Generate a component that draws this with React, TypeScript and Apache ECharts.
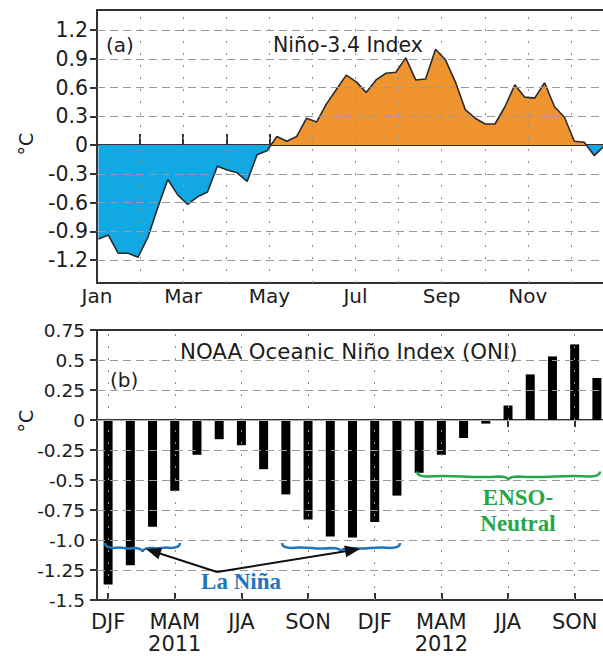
import React, { useEffect, useRef } from "react";
import * as echarts from "echarts";

// ---------- Panel (a): weekly Niño-3.4 index, 2011 ----------
const monthLabels = ["Jan", "", "Mar", "", "May", "", "Jul", "", "Sep", "", "Nov", "", ""];
const firstWeekDay = 1; // day-of-year of the first weekly value
const weekStepDays = 7;
const nino34Weekly = [
  -0.98, -0.94, -1.13, -1.13, -1.17, -0.96, -0.65, -0.36, -0.52, -0.62,
  -0.54, -0.49, -0.22, -0.26, -0.29, -0.38, -0.1, -0.06, 0.09, 0.04,
  0.09, 0.28, 0.24, 0.43, 0.58, 0.73, 0.66, 0.55, 0.68, 0.75,
  0.76, 0.91, 0.68, 0.69, 1.0, 0.89, 0.66, 0.37, 0.28, 0.22,
  0.22, 0.4, 0.63, 0.5, 0.49, 0.65, 0.4, 0.29, 0.04, 0.03,
  -0.11, -0.01,
];
const ninoTicks = [-1.2, -0.9, -0.6, -0.3, 0, 0.3, 0.6, 0.9, 1.2];

// ---------- Panel (b): NOAA ONI, 3-month seasons ----------
const oniSeasons = [
  "DJF", "JFM", "FMA", "MAM", "AMJ", "MJJ", "JJA", "JAS", "ASO", "SON", "OND", "NDJ",
  "DJF", "JFM", "FMA", "MAM", "AMJ", "MJJ", "JJA", "JAS", "ASO", "SON", "OND",
];
const oniYears = [
  2011, 2011, 2011, 2011, 2011, 2011, 2011, 2011, 2011, 2011, 2011, 2011,
  2012, 2012, 2012, 2012, 2012, 2012, 2012, 2012, 2012, 2012, 2012,
];
const oniValues = [
  -1.37, -1.21, -0.89, -0.59, -0.29, -0.16, -0.21, -0.41, -0.62, -0.83, -0.97, -0.98,
  -0.85, -0.63, -0.44, -0.29, -0.15, -0.03, 0.12, 0.38, 0.53, 0.63, 0.35,
];
const yearLabelSeason = "MAM";

const FONT = "DejaVu Sans";
const INK = "#1c1c1c";
const FRAME = "#333333";
const BLUE = "#12a8e4";
const ORANGE = "#f0942f";
const BRACE_BLUE = "#2075bd";
const BRACE_GREEN = "#27a64a";

function bracePath(x1: number, x2: number, y: number, tip: number, cusp: number) {
  const xm = (x1 + x2) / 2;
  const r = 10;
  return (
    `M${x1} ${y - tip} Q${x1} ${y} ${x1 + r} ${y} ` +
    `C${x1 + (xm - x1) * 0.4} ${y - 2} ${x1 + (xm - x1) * 0.6} ${y + 2} ${xm - r} ${y} ` +
    `Q${xm} ${y} ${xm} ${y + cusp} Q${xm} ${y} ${xm + r} ${y} ` +
    `C${xm + (x2 - xm) * 0.4} ${y + 2} ${xm + (x2 - xm) * 0.6} ${y - 2} ${x2 - r} ${y} ` +
    `Q${x2} ${y} ${x2} ${y - tip}`
  );
}

function arrow(fx: number, fy: number, tx: number, ty: number) {
  const dx = tx - fx;
  const dy = ty - fy;
  const len = Math.sqrt(dx * dx + dy * dy);
  const ux = dx / len;
  const uy = dy / len;
  const L = 15;
  const W = 6;
  const bx = tx - ux * L;
  const by = ty - uy * L;
  return [
    {
      type: "line",
      z: 100,
      shape: { x1: fx, y1: fy, x2: bx + ux * 2, y2: by + uy * 2 },
      style: { stroke: "#111", lineWidth: 2 },
    },
    {
      type: "polygon",
      z: 100,
      shape: {
        points: [
          [tx, ty],
          [bx - uy * W, by + ux * W],
          [bx + uy * W, by - ux * W],
        ],
      },
      style: { fill: "#111" },
    },
  ];
}

export default function App() {
  const ref = useRef<HTMLDivElement>(null);

  useEffect(() => {
    if (!ref.current) return;
    echarts.graphic.registerShape(
      "braceBlue",
      echarts.graphic.extendPath(
        bracePath(105, 180, 548, 5, 4) + " " + bracePath(282, 400, 548, 5, 4),
        {}
      )
    );
    echarts.graphic.registerShape(
      "braceGreen",
      echarts.graphic.extendPath(bracePath(417, 600, 476.5, 5, 4), {})
    );

    const chart = echarts.init(ref.current, undefined, { renderer: "svg" });

    const ninoPoints = nino34Weekly.map((v, i) => [
      (firstWeekDay + i * weekStepDays) / (365 / 12),
      v,
    ]);
    const oniKeys = oniSeasons.map((s, i) => `${s}-${oniYears[i]}`);

    const dashed = { color: "#9a9a9a", width: 1, type: [8, 5] as any };
    const dotted = { color: "#8f8f8f", width: 1, type: [2, 10] as any };

    const topMarks = [
      ...ninoTicks.filter((v) => v !== 0).map((v) => ({ yAxis: v, lineStyle: dashed })),
      ...monthLabels.slice(1, 12).map((_, i) => ({ xAxis: i + 1, lineStyle: dotted })),
    ];
    const oniGridValues = [0.5, 0.25, -0.25, -0.5, -0.75, -1.0, -1.25];
    const bottomMarks = [
      ...oniGridValues.map((v) => ({ yAxis: v, lineStyle: dashed })),
      { yAxis: 0, lineStyle: { color: "#b0b0b0", width: 1, type: "solid" } },
      ...oniKeys
        .map((_, i) => i)
        .filter((i) => i % 3 === 0)
        .map((i) => ({ xAxis: i, lineStyle: dotted })),
    ];

    const axisLineStyle = { show: true, lineStyle: { color: FRAME, width: 2 } };
    const tickStyle = { color: FRAME, width: 2 };

    const option: any = {
      animation: false,
      backgroundColor: "#ffffff",
      grid: [
        {
          left: 97, top: 10, width: 517, height: 273,
          show: true, borderColor: FRAME, borderWidth: 2,
          containLabel: false, outerBoundsMode: "none",
        },
        {
          left: 97, top: 330, width: 511, height: 270,
          show: true, borderColor: FRAME, borderWidth: 2,
          containLabel: false, outerBoundsMode: "none",
        },
      ],
      xAxis: [
        {
          type: "value",
          gridIndex: 0,
          min: 0,
          max: 12,
          interval: 1,
          axisLine: axisLineStyle,
          axisTick: { show: true, inside: true, length: 11, lineStyle: tickStyle },
          axisLabel: {
            formatter: (v: number) => monthLabels[Math.round(v)] ?? "",
            fontFamily: FONT,
            fontSize: 20,
            color: INK,
            margin: 3,
          },
          splitLine: { show: false },
        },
        {
          type: "category",
          gridIndex: 1,
          data: oniKeys,
          boundaryGap: true,
          axisLine: axisLineStyle,
          axisTick: { show: true, alignWithLabel: true, interval: 2, length: 7, lineStyle: tickStyle },
          axisLabel: {
            interval: 2,
            formatter: (_v: string, idx: number) =>
              oniSeasons[idx] === yearLabelSeason
                ? `${oniSeasons[idx]}\n${oniYears[idx]}`
                : oniSeasons[idx],
            fontFamily: FONT,
            fontSize: 21,
            lineHeight: 22,
            color: INK,
            margin: 11,
          },
          splitLine: { show: false },
        },
        {
          type: "category",
          gridIndex: 1,
          position: "bottom",
          data: oniKeys,
          boundaryGap: true,
          axisLine: { show: false },
          axisTick: { show: true, inside: true, alignWithLabel: true, interval: 2, length: 7, lineStyle: tickStyle },
          axisLabel: { show: false },
          splitLine: { show: false },
        },
      ],
      yAxis: [
        {
          type: "value",
          gridIndex: 0,
          min: -1.44,
          max: 1.41,
          axisLine: axisLineStyle,
          axisTick: { show: true, length: 7, lineStyle: tickStyle, customValues: ninoTicks },
          axisLabel: {
            customValues: ninoTicks,
            formatter: (v: number) => String(v),
            fontFamily: FONT,
            fontSize: 20.5,
            color: INK,
            margin: 9,
          },
          splitLine: { show: false },
        },
        {
          type: "value",
          gridIndex: 1,
          min: -1.5,
          max: 0.75,
          interval: 0.25,
          axisLine: axisLineStyle,
          axisTick: { show: true, length: 7, lineStyle: tickStyle },
          axisLabel: {
            formatter: (v: number) => (v === -1 ? "-1.0" : String(v)),
            fontFamily: FONT,
            fontSize: 18.5,
            color: INK,
            margin: 12,
          },
          splitLine: { show: false },
        },
      ],
      visualMap: {
        type: "piecewise",
        show: false,
        seriesIndex: 0,
        dimension: 1,
        pieces: [
          { gte: -5, lt: 0, color: BLUE },
          { gte: 0, lte: 5, color: ORANGE },
        ],
      },
      series: [
        {
          name: "fill",
          type: "line",
          xAxisIndex: 0,
          yAxisIndex: 0,
          data: ninoPoints,
          showSymbol: false,
          lineStyle: { width: 0 },
          areaStyle: { opacity: 1 },
          z: 2,
        },
        {
          name: "Niño-3.4",
          type: "line",
          xAxisIndex: 0,
          yAxisIndex: 0,
          data: ninoPoints,
          showSymbol: false,
          color: "#2a2a2a",
          lineStyle: { color: "#2a2a2a", width: 1.6 },
          z: 3,
          markLine: {
            silent: true,
            symbol: ["none", "none"],
            label: { show: false },
            data: topMarks,
          },
        },
        {
          name: "ONI",
          type: "bar",
          xAxisIndex: 1,
          yAxisIndex: 1,
          data: oniValues,
          barWidth: 9,
          itemStyle: { color: "#000000" },
          z: 3,
          markLine: {
            silent: true,
            symbol: ["none", "none"],
            label: { show: false },
            data: bottomMarks,
          },
        },
      ],
      graphic: [
        {
          type: "text",
          x: 26,
          y: 144,
          rotation: Math.PI / 2,
          style: { text: "°C", fontFamily: FONT, fontSize: 19, fill: INK, align: "center", verticalAlign: "middle" },
        },
        {
          type: "text",
          x: 26,
          y: 421,
          rotation: Math.PI / 2,
          style: { text: "°C", fontFamily: FONT, fontSize: 19, fill: INK, align: "center", verticalAlign: "middle" },
        },
        {
          type: "text",
          x: 106,
          y: 45,
          z: 100,
          style: { text: "(a)", fontFamily: FONT, fontSize: 20, fill: INK, align: "left", verticalAlign: "middle" },
        },
        {
          type: "text",
          x: 273,
          y: 45,
          z: 100,
          style: { text: "Niño-3.4 Index", fontFamily: FONT, fontSize: 20.5, fill: INK, align: "left", verticalAlign: "middle" },
        },
        {
          type: "text",
          x: 110,
          y: 380,
          z: 100,
          style: { text: "(b)", fontFamily: FONT, fontSize: 20, fill: INK, align: "left", verticalAlign: "middle" },
        },
        {
          type: "text",
          x: 180,
          y: 351,
          z: 100,
          style: {
            text: "NOAA Oceanic Niño Index (ONI)",
            fontFamily: FONT,
            fontSize: 21.3,
            fill: INK,
            align: "left",
            verticalAlign: "middle",
          },
        },
        {
          type: "braceBlue",
          x: 0,
          y: 0,
          z: 100,
          style: { stroke: BRACE_BLUE, fill: "none", lineWidth: 2.5 },
        },
        {
          type: "braceGreen",
          x: 0,
          y: 0,
          z: 100,
          style: { stroke: BRACE_GREEN, fill: "none", lineWidth: 2.5 },
        },
        ...arrow(217, 572, 146, 549),
        ...arrow(217, 572, 360, 549),
        {
          type: "text",
          x: 241,
          y: 581,
          z: 100,
          style: {
            text: "La Niña",
            fontFamily: "Liberation Serif",
            fontWeight: "bold",
            fontSize: 23,
            fill: BRACE_BLUE,
            align: "center",
            verticalAlign: "middle",
          },
        },
        {
          type: "text",
          x: 518,
          y: 510,
          z: 100,
          style: {
            text: "ENSO-\nNeutral",
            fontFamily: "Liberation Serif",
            fontWeight: "bold",
            fontSize: 23,
            lineHeight: 26,
            fill: BRACE_GREEN,
            align: "center",
            verticalAlign: "middle",
          },
        },
      ],
    };

    chart.setOption(option);
    return () => chart.dispose();
  }, []);

  return (
    <div
      ref={ref}
      style={{ position: "fixed", left: 0, top: 0, width: 603, height: 656, background: "#fff" }}
    />
  );
}
